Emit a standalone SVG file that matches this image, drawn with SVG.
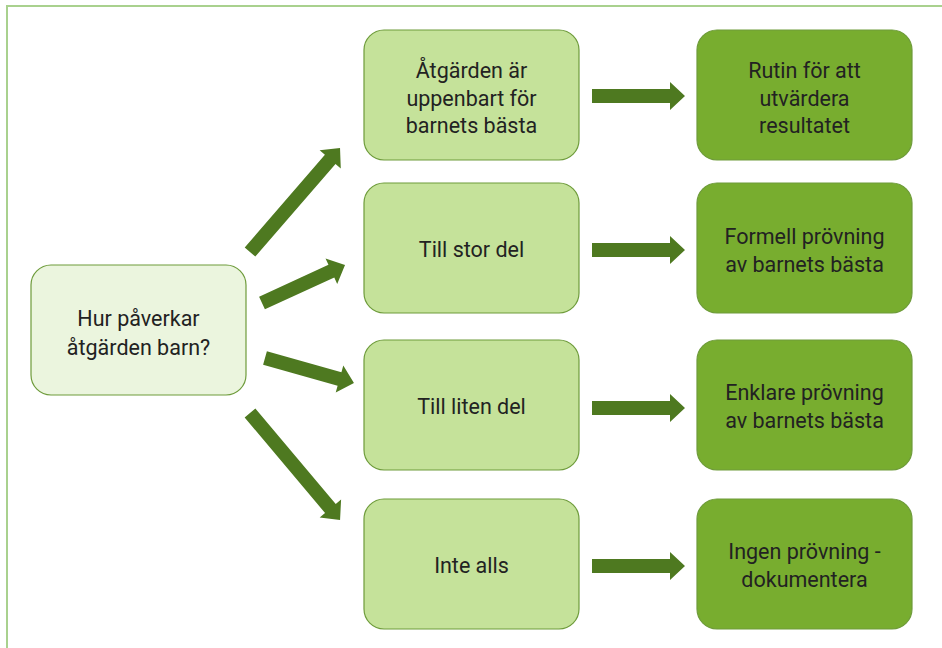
<svg xmlns="http://www.w3.org/2000/svg" width="942" height="648" viewBox="0 0 942 648">
<style>
.frame{fill:none;stroke:#a9d18e;stroke-width:2}
.box{stroke:#6e9b3b;stroke-width:1.2}
.q{fill:#ebf5de}
.m{fill:#c5e29a}
.r{fill:#78ad2f}
text{font-family:Roboto,"Liberation Sans",sans-serif;font-size:21.5px;fill:#222;text-anchor:middle}
.arrow{fill:#4e7920}
</style>
<rect x="0" y="0" width="942" height="648" fill="#fff"/>
<rect class="frame" x="7" y="6" width="960" height="700"/>
<g id="connectors">
<polygon class="arrow" transform="translate(250,252) rotate(-49.1)" points="0,-7 122.5,-7 122.5,-14 137.5,0 122.5,14 122.5,7 0,7"/>
<polygon class="arrow" transform="translate(262,303) rotate(-24.6)" points="0,-7 76.3,-7 76.3,-14 91.3,0 76.3,14 76.3,7 0,7"/>
<polygon class="arrow" transform="translate(265,358) rotate(15.7)" points="0,-7 77.4,-7 77.4,-14 92.4,0 77.4,14 77.4,7 0,7"/>
<polygon class="arrow" transform="translate(250,413) rotate(49.9)" points="0,-7 124.8,-7 124.8,-14 139.8,0 124.8,14 124.8,7 0,7"/>
<polygon class="arrow" transform="translate(592,96)" points="0,-7 78,-7 78,-14 93,0 78,14 78,7 0,7"/>
<polygon class="arrow" transform="translate(592,250)" points="0,-7 78,-7 78,-14 93,0 78,14 78,7 0,7"/>
<polygon class="arrow" transform="translate(592,408)" points="0,-7 78,-7 78,-14 93,0 78,14 78,7 0,7"/>
<polygon class="arrow" transform="translate(592,566)" points="0,-7 78,-7 78,-14 93,0 78,14 78,7 0,7"/>
</g>
<g id="n-question">
<rect class="box q" x="31" y="265" width="215" height="130" rx="20"/>
<text x="138.5" y="326">Hur påverkar</text>
<text x="138.5" y="355">åtgärden barn?</text>
</g>
<g id="n-obvious">
<rect class="box m" x="364" y="30" width="215" height="130" rx="20"/>
<text x="471.5" y="78">Åtgärden är</text>
<text x="471.5" y="106">uppenbart för</text>
<text x="471.5" y="133">barnets bästa</text>
</g>
<g id="n-large">
<rect class="box m" x="364" y="183" width="215" height="130" rx="20"/>
<text x="471.5" y="257">Till stor del</text>
</g>
<g id="n-small">
<rect class="box m" x="364" y="340" width="215" height="130" rx="20"/>
<text x="471.5" y="414">Till liten del</text>
</g>
<g id="n-none">
<rect class="box m" x="364" y="499" width="215" height="130" rx="20"/>
<text x="471.5" y="573">Inte alls</text>
</g>
<g id="n-routine">
<rect class="box r" x="697" y="30" width="215" height="130" rx="20"/>
<text x="804.5" y="78">Rutin för att</text>
<text x="804.5" y="106">utvärdera</text>
<text x="804.5" y="133">resultatet</text>
</g>
<g id="n-formal">
<rect class="box r" x="697" y="183" width="215" height="130" rx="20"/>
<text x="804.5" y="244">Formell prövning</text>
<text x="804.5" y="272">av barnets bästa</text>
</g>
<g id="n-simple">
<rect class="box r" x="697" y="340" width="215" height="130" rx="20"/>
<text x="804.5" y="400">Enklare prövning</text>
<text x="804.5" y="428">av barnets bästa</text>
</g>
<g id="n-document">
<rect class="box r" x="697" y="499" width="215" height="130" rx="20"/>
<text x="804.5" y="559">Ingen prövning -</text>
<text x="804.5" y="587">dokumentera</text>
</g>
</svg>
